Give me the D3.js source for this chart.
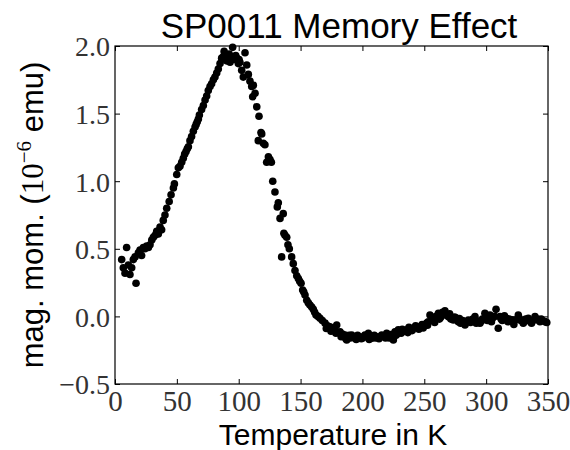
<!DOCTYPE html>
<html>
<head>
<meta charset="utf-8">
<script src="https://cdn.jsdelivr.net/npm/d3@7"></script>
<style>
  body { margin: 0; background: #fff; }
</style>
</head>
<body>
<svg width="570" height="450"></svg>
<script>
var temperature = [
  5.4, 6.7, 8.1, 9.4, 10.8, 12.1, 13.5, 14.8, 16.2, 17.0,
  18.9, 20.2, 21.5, 22.9, 24.2, 25.6, 27.0, 28.3, 29.7, 31.0,
  32.4, 33.7, 35.0, 36.4, 37.7, 39.0, 40.4, 41.8, 43.8, 45.3,
  47.2, 48.0, 49.9, 51.2, 52.5, 53.9, 55.2, 56.3, 57.4, 58.4,
  59.3, 60.6, 61.9, 63.3, 64.7, 65.6, 66.5, 67.4, 68.2, 70.0,
  71.4, 72.8, 74.1, 75.4, 76.8, 78.1, 79.5, 80.8, 82.2, 83.5,
  84.9, 86.2, 87.5, 88.9, 90.2, 91.6, 93.0, 94.2, 95.1, 95.6,
  96.9, 98.4, 99.7, 101.0, 102.4, 103.7, 105.1, 106.5, 107.8, 109.1,
  110.5, 111.3, 111.8, 113.2, 114.6, 115.8, 116.4, 118.0, 118.6, 119.9,
  121.2, 122.6, 124.0, 125.3, 126.4, 127.5, 129.3, 131.2, 132.0, 133.4,
  134.7, 136.0, 136.5, 137.4, 138.8, 139.8, 140.9, 142.8, 144.1, 145.5,
  146.9, 148.2, 149.3, 150.4, 151.7, 152.6, 153.6, 155.0, 156.3, 157.6,
  159.0, 160.3, 161.4, 162.5, 164.1, 165.7, 167.6, 169.8, 171.8, 173.8,
  175.6, 177.8, 179.2, 180.6, 181.9, 183.8, 185.9, 187.3, 189.2, 191.3,
  192.6, 194.0, 196.1, 198.0, 200.2, 202.0, 203.4, 204.8, 206.1, 207.5,
  209.6, 211.5, 213.4, 215.6, 217.5, 219.6, 221.6, 223.7, 225.0, 226.3,
  228.0, 229.0, 230.4, 232.2, 233.9, 235.8, 237.6, 239.3, 241.1, 243.0,
  244.8, 246.5, 248.2, 250.1, 251.9, 253.2, 254.6, 256.0, 257.3, 259.5,
  261.4, 263.0, 264.8, 266.7, 268.0, 269.5, 271.5, 273.5, 275.5, 277.5,
  279.3, 281.0, 282.9, 284.3, 285.6, 287.4, 289.2, 291.0, 293.0, 295.0,
  297.0, 299.0, 301.0, 303.1, 305.5, 308.0, 309.8, 311.2, 313.0, 314.8,
  316.6, 318.6, 320.6, 322.4, 324.2, 326.0, 328.0, 330.0, 332.0, 334.1,
  335.8, 337.6, 339.5, 341.5, 343.5, 345.5, 347.6, 349.0,
  // second sweep, visible as the lower/upper edge of the band
  170.8, 174.6, 178.6, 182.8, 186.6, 190.2, 195.0, 199.1, 205.5, 210.5,
  214.5, 218.6, 222.7, 227.2, 231.3, 236.7, 240.2, 245.6, 249.1, 252.6,
  258.4, 262.2, 265.7, 270.5, 274.5, 278.4, 283.6, 288.3, 292.0, 296.0,
  300.0, 304.3, 306.8, 312.1, 317.6, 321.5, 327.0, 331.0, 336.7, 340.5,
  344.5, 88.2, 92.3, 97.6, 100.3
];
var moment = [
  0.42, 0.36, 0.32, 0.51, 0.38, 0.31, 0.36, 0.42, 0.44, 0.245,
  0.47, 0.49, 0.45, 0.51, 0.50, 0.52, 0.51, 0.53, 0.565, 0.585,
  0.60, 0.63, 0.61, 0.66, 0.64, 0.71, 0.75, 0.80, 0.85, 0.90,
  0.95, 0.98, 1.05, 1.10, 1.11, 1.14, 1.17, 1.20, 1.22, 1.24,
  1.255, 1.30, 1.33, 1.37, 1.40, 1.42, 1.44, 1.46, 1.49, 1.53,
  1.56, 1.60, 1.63, 1.67, 1.70, 1.72, 1.75, 1.77, 1.80, 1.83,
  1.87, 1.91, 1.92, 1.93, 1.89, 1.90, 1.88, 1.92, 1.99, 1.92,
  1.90, 1.91, 1.87, 1.88, 1.82, 1.77, 1.95, 1.86, 1.79, 1.74,
  1.70, 1.625, 1.71, 1.65, 1.55, 1.30, 1.48, 1.36, 1.35, 1.28,
  1.27, 1.14, 1.18, 1.16, 1.14, 1.00, 0.92, 0.81, 0.84, 0.725,
  0.44, 0.76, 0.615, 0.60, 0.585, 0.53, 0.50, 0.44, 0.39, 0.34,
  0.30, 0.28, 0.26, 0.245, 0.195, 0.18, 0.158, 0.12, 0.10, 0.084,
  0.07, 0.052, 0.03, 0.01, 0.00, -0.014, -0.03, -0.05, -0.07, -0.076,
  -0.09, -0.10, -0.064, -0.12, -0.113, -0.13, -0.138, -0.175, -0.14, -0.138,
  -0.155, -0.162, -0.14, -0.15, -0.16, -0.138, -0.15, -0.125, -0.145, -0.162,
  -0.14, -0.15, -0.165, -0.138, -0.145, -0.125, -0.16, -0.15, -0.175, -0.113,
  -0.13, -0.10, -0.113, -0.095, -0.11, -0.10, -0.08, -0.095, -0.088, -0.07,
  -0.085, -0.076, -0.06, -0.07, -0.05, -0.04, 0.01, -0.03, -0.027, 0.00,
  0.023, -0.01, 0.03, 0.042, 0.01, -0.002, -0.02, -0.027, -0.01, -0.039,
  -0.05, -0.03, -0.064, -0.04, -0.027, -0.045, -0.02, -0.002, -0.035, -0.05,
  -0.02, 0.023, -0.03, 0.01, -0.01, 0.052, -0.088, -0.002, -0.03, 0.005,
  -0.014, -0.02, -0.039, -0.06, -0.025, 0.01, -0.03, -0.05, -0.02, -0.014,
  -0.04, -0.03, -0.002, -0.02, -0.039, -0.03, -0.039, -0.045,
  -0.09, -0.11, -0.125, -0.15, -0.165, -0.16, -0.17, -0.165, -0.17, -0.16,
  -0.15, -0.16, -0.135, -0.14, -0.125, -0.12, -0.105, -0.095, -0.085, -0.065,
  -0.045, -0.02, 0.01, 0.02, -0.005, -0.015, -0.045, -0.03, -0.05, -0.035,
  -0.01, -0.04, 0.00, -0.02, -0.04, -0.025, -0.015, -0.035, -0.05, -0.025,
  -0.02, 1.96, 1.94, 1.93, 1.90
];
var xTicks = [0, 50, 100, 150, 200, 250, 300, 350];
var yTicks = [-0.5, 0.0, 0.5, 1.0, 1.5, 2.0];

var svg = d3.select('svg');
var pl = 115, pr = 548, pt = 46, pb = 384;

var x = d3.scaleLinear().domain([0, 350]).range([pl, pr]);
var y = d3.scaleLinear().domain([-0.5, 2.0]).range([pb, pt]);

var points = temperature.map(function (t, i) { return {t: t, m: moment[i]}; });

// dots
svg.append('g')
    .selectAll('circle')
    .data(points)
    .enter()
    .append('circle')
    .attr('cx', function (d) { return x(d.t); })
    .attr('cy', function (d) { return y(d.m); })
    .attr('r', 3.8)
    .attr('fill', '#000');

var serif = '"Liberation Serif", "DejaVu Serif", serif';
var sans = '"Liberation Sans", Arial, sans-serif';

// inward ticks on all four sides, labels bottom/left only
svg.append('g')
    .attr('transform', 'translate(0,' + pb + ')')
    .call(d3.axisBottom(x).tickValues(xTicks).tickSizeInner(-5).tickSizeOuter(0)
        .tickFormat(d3.format('d')))
    .call(function (g) {
        g.select('.domain').remove();
        g.selectAll('line').attr('stroke', '#000');
        g.selectAll('text')
            .attr('y', 27).attr('dy', 0)
            .style('font-family', serif).style('font-size', '29px').attr('fill', '#333');
    });
svg.append('g')
    .attr('transform', 'translate(0,' + pt + ')')
    .call(d3.axisTop(x).tickValues(xTicks).tickSizeInner(-5).tickSizeOuter(0).tickFormat(''))
    .call(function (g) { g.select('.domain').remove(); g.selectAll('line').attr('stroke', '#000'); });

svg.append('g')
    .attr('transform', 'translate(' + pl + ',0)')
    .call(d3.axisLeft(y).tickValues(yTicks).tickSizeInner(-5).tickSizeOuter(0)
        .tickFormat(function (d) { return d3.format('.1f')(d).replace('-', '\u2212'); }))
    .call(function (g) {
        g.select('.domain').remove();
        g.selectAll('line').attr('stroke', '#000');
        g.selectAll('text')
            .attr('x', -5).attr('dy', '0.35em')
            .style('font-family', serif).style('font-size', '28px').attr('fill', '#333');
    });
svg.append('g')
    .attr('transform', 'translate(' + pr + ',0)')
    .call(d3.axisRight(y).tickValues(yTicks).tickSizeInner(-5).tickSizeOuter(0).tickFormat(''))
    .call(function (g) { g.select('.domain').remove(); g.selectAll('line').attr('stroke', '#000'); });

// frame
svg.append('rect')
    .attr('x', pl).attr('y', pt)
    .attr('width', pr - pl).attr('height', pb - pt)
    .attr('fill', 'none').attr('stroke', '#000').attr('stroke-width', 1.2);

// title
svg.append('text')
    .attr('x', 339).attr('y', 38)
    .attr('text-anchor', 'middle')
    .style('font-family', sans).style('font-size', '35px')
    .text('SP0011 Memory Effect');

// x label
svg.append('text')
    .attr('x', 333).attr('y', 445)
    .attr('text-anchor', 'middle')
    .style('font-family', sans).style('font-size', '30px')
    .text('Temperature in K');

// y label
var yl = svg.append('text')
    .attr('transform', 'translate(43,215) rotate(-90)')
    .attr('text-anchor', 'middle')
    .style('font-family', sans).style('font-size', '31px');
yl.append('tspan').text('mag. mom. (');
yl.append('tspan').style('font-family', serif).text('10');
yl.append('tspan').style('font-family', serif).style('font-size', '21px')
    .attr('dy', -12).text('\u22126');
yl.append('tspan').attr('dy', 12).text(' emu)');
</script>
</body>
</html>
